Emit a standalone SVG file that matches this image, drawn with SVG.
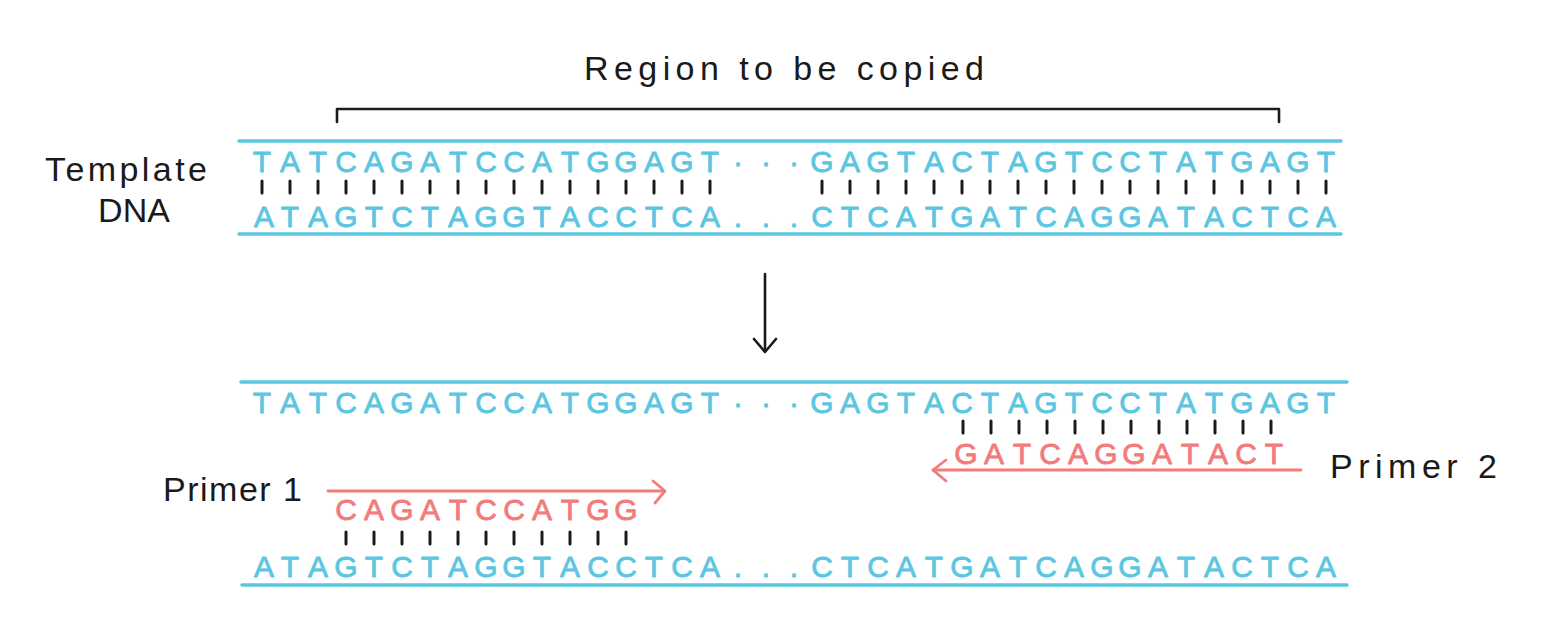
<svg xmlns="http://www.w3.org/2000/svg" width="1561" height="633" viewBox="0 0 1561 633">
<defs>
<style>
.seq{font-family:"Liberation Sans",Arial,sans-serif;font-size:30px;fill:#5BC6E1;stroke:#5BC6E1;stroke-width:0.8;stroke-linejoin:round;text-anchor:middle}
.red{fill:#F27B7B;stroke:#F27B7B}
.lbl{font-family:"Liberation Sans",Arial,sans-serif;font-size:34px;fill:#1a1a1a}
.strand{stroke:#5BC6E1;stroke-width:3.5;stroke-linecap:round;fill:none}
.tick{stroke:#1a1a1a;stroke-width:3;stroke-linecap:round}
.ink{stroke:#1a1a1a;stroke-width:2.6;stroke-linecap:round;stroke-linejoin:round;fill:none}
.rarrow{stroke:#F27B7B;stroke-width:2.8;stroke-linecap:round;stroke-linejoin:round;fill:none}
</style>
</defs>
<rect width="1561" height="633" fill="#ffffff"/>

<g id="region-label">
<text class="lbl" x="584" y="80" textLength="400">Region to be copied</text>
<polyline class="ink" points="337,122 337,109 1279,109 1279,122"/>
</g>

<g id="template-label">
<text class="lbl" x="45" y="181" textLength="162">Template</text>
<text class="lbl" x="134" y="222" text-anchor="middle" font-size="31">DNA</text>
</g>

<g id="template-dna">
<line class="strand" x1="239" y1="141" x2="1341" y2="141"/>
<text class="seq" y="172" x="262 290 318 346 374 402 430 458 486 514 542 570 598 626 654 682 710 738 766 794 822 850 878 906 934 962 990 1018 1046 1074 1102 1130 1158 1186 1214 1242 1270 1298 1326">TATCAGATCCATGGAGT···GAGTACTAGTCCTATGAGT</text>
<g class="tick">
<path d="M262,181v12M290,181v12M318,181v12M346,181v12M374,181v12M402,181v12M430,181v12M458,181v12M486,181v12M514,181v12M542,181v12M570,181v12M598,181v12M626,181v12M654,181v12M682,181v12M710,181v12M822,181v12M850,181v12M878,181v12M906,181v12M934,181v12M962,181v12M990,181v12M1018,181v12M1046,181v12M1074,181v12M1102,181v12M1130,181v12M1158,181v12M1186,181v12M1214,181v12M1242,181v12M1270,181v12M1298,181v12M1326,181v12"/>
</g>
<text class="seq" y="227" x="264 290 318 346 374 402 430 458 486 514 542 570 598 626 654 682 710 738 766 794 822 850 878 906 934 962 990 1018 1046 1074 1102 1130 1158 1186 1214 1242 1270 1298 1326">ATAGTCTAGGTACCTCA...CTCATGATCAGGATACTCA</text>
<line class="strand" x1="239" y1="234" x2="1341" y2="234"/>
</g>

<g id="connectors">
<line class="ink" x1="765" y1="274" x2="765" y2="351"/>
<polyline class="ink" points="754,339 765,352 776,339"/>
</g>

<g id="top-strand">
<line class="strand" x1="241" y1="382" x2="1347" y2="382"/>
<text class="seq" y="413" x="262 290 318 346 374 402 430 458 486 514 542 570 598 626 654 682 710 738 766 794 822 850 878 906 934 962 990 1018 1046 1074 1102 1130 1158 1186 1214 1242 1270 1298 1326">TATCAGATCCATGGAGT···GAGTACTAGTCCTATGAGT</text>
<path class="tick" d="M963,421v12M991,421v12M1019,421v12M1047,421v12M1075,421v12M1103,421v12M1131,421v12M1159,421v12M1187,421v12M1215,421v12M1243,421v12M1271,421v12"/>
</g>

<g id="primer-2">
<text class="seq red" y="464" x="966 994 1022 1050 1078 1106 1134 1162 1190 1218 1246 1274">GATCAGGATACT</text>
<line class="rarrow" x1="1301" y1="470" x2="933" y2="470"/>
<polyline class="rarrow" points="946,460 933,470 946,481"/>
<text class="lbl" x="1330" y="478" textLength="167">Primer 2</text>
</g>

<g id="primer-1">
<text class="lbl" x="163" y="501" textLength="139">Primer 1</text>
<line class="rarrow" x1="328" y1="491" x2="664" y2="491"/>
<polyline class="rarrow" points="653,481 665,491 655,503"/>
<text class="seq red" y="520" x="346 374 402 430 458 486 514 542 570 598 626">CAGATCCATGG</text>
<path class="tick" d="M346,532v12M374,532v12M402,532v12M430,532v12M458,532v12M486,532v12M514,532v12M542,532v12M570,532v12M598,532v12M626,532v12"/>
</g>

<g id="bottom-strand">
<text class="seq" y="577" x="264 290 318 346 374 402 430 458 486 514 542 570 598 626 654 682 710 738 766 794 822 850 878 906 934 962 990 1018 1046 1074 1102 1130 1158 1186 1214 1242 1270 1298 1326">ATAGTCTAGGTACCTCA...CTCATGATCAGGATACTCA</text>
<line class="strand" x1="242" y1="585" x2="1347" y2="585"/>
</g>
</svg>
